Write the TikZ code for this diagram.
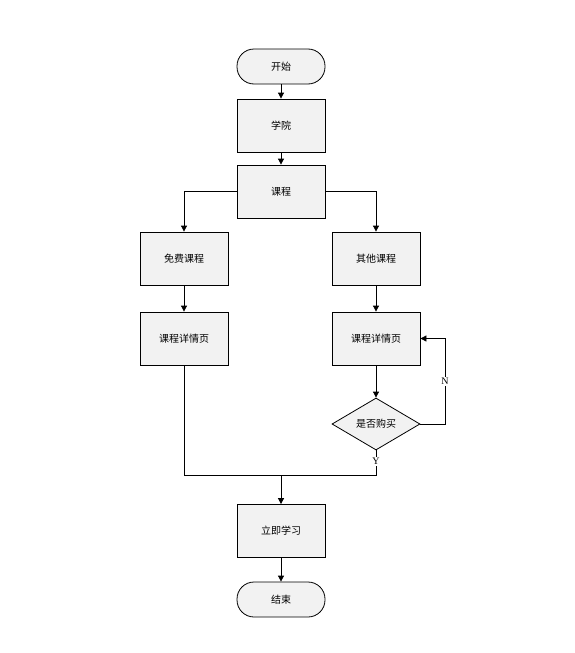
\documentclass[tikz,border=0pt]{standalone}
\usepackage{fontspec}
\newfontfamily\cjk{Noto Sans CJK SC}
\setmainfont{Liberation Serif}
\usetikzlibrary{arrows.meta,shapes.geometric}
\definecolor{boxfill}{HTML}{F2F2F2}
\tikzset{
  base/.style={draw=black, fill=boxfill, line width=0.8pt, font=\cjk\fontsize{10}{12}\selectfont, inner sep=0pt},
  procbox/.style={base, rectangle, minimum width=88pt, minimum height=53pt},
  termbox/.style={base, rectangle, rounded corners=17pt, minimum width=88pt, minimum height=35pt},
  decbox/.style={base, diamond, aspect=1.7, minimum width=88pt, minimum height=52pt},
  conn/.style={draw=black, line width=0.8pt, -{Triangle[length=6pt,width=6pt]}},
  plain/.style={draw=black, line width=0.8pt},
  lab/.style={fill=white, inner sep=1pt, font=\fontsize{10}{12}\selectfont}
}
\begin{document}
\begin{tikzpicture}[x=1pt,y=-1pt]
\useasboundingbox (0,0) rectangle (575,653);
\node[termbox] (start) at (281,66.5) {开始};
\node[procbox] (xy) at (281,125.5) {学院};
\node[procbox] (kc) at (281,191.5) {课程};
\node[procbox] (mf) at (184,258.5) {免费课程};
\node[procbox] (qt) at (376,258.5) {其他课程};
\node[procbox] (xq1) at (184,338.5) {课程详情页};
\node[procbox] (xq2) at (376,338.5) {课程详情页};
\node[decbox] (gm) at (376,424) {是否购买};
\node[procbox] (lj) at (281,531) {立即学习};
\node[termbox] (end) at (281,599.5) {结束};
\coordinate (m) at (281,475);
\draw[conn] (start) -- (xy);
\draw[conn] (xy) -- (kc);
\draw[conn] (kc.west) -| (mf.north);
\draw[conn] (kc.east) -| (qt.north);
\draw[conn] (mf) -- (xq1);
\draw[conn] (qt) -- (xq2);
\draw[conn] (xq2) -- (gm);
\draw[conn] (gm.east) -- (445,424) -- (445,338.5) node[lab, pos=0.5] {N} -- (xq2.east);
\draw[plain] (gm.south) -- (376,475) node[lab, pos=0.45] {Y} -- (184,475) -- (xq1.south);
\draw[conn] (m) -- (lj);
\draw[conn] (lj) -- (end);
\end{tikzpicture}
\end{document}
